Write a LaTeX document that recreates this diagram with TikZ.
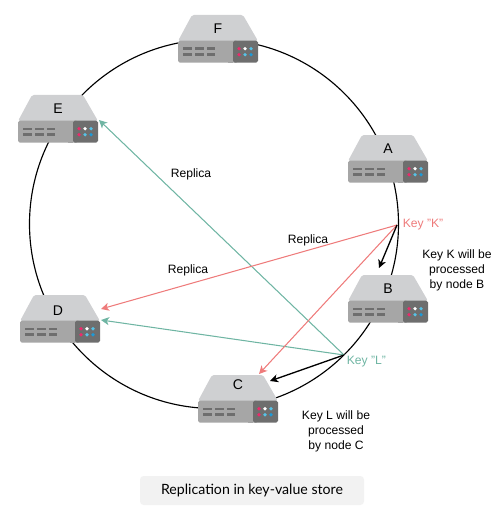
\documentclass[tikz,border=0pt]{standalone}
\usepackage{fontspec}
\setmainfont{Liberation Sans}
\newfontfamily\captionfont{Lato}
\usetikzlibrary{arrows.meta}

\definecolor{rackTop}{HTML}{CFD0D2}
\definecolor{rackFront}{HTML}{A6A6A6}
\definecolor{rackPanel}{HTML}{6E6E6E}
\definecolor{rackPink}{HTML}{EC2A6C}
\definecolor{rackSky}{HTML}{56C2E6}
\definecolor{rackBlue}{HTML}{1E9AD6}
\definecolor{keyRed}{HTML}{EE7B7B}
\definecolor{keyGreen}{HTML}{6FB5A3}

\tikzset{
  namex/.store in = \namex, namex = 40,
  namey/.store in = \namey, namey = 14,
  label/.style = {font=\fontsize{6.9}{8.5}\selectfont, align=center, inner sep=0pt},
  rackname/.style = {font=\fontsize{8}{9}\selectfont, inner sep=0pt},
  server/.pic = {
    \fill[rackTop, rounded corners=1pt] (0,26) -- (14,0) -- (65,0) -- (80,26) -- cycle;
    \fill[rackFront, rounded corners=1pt] (0,25.7) rectangle (60,47.7);
    \fill[rackPanel, rounded corners=1pt] (55,25.7) rectangle (80,47.7);
    \fill[rackFront] (50,25.7) rectangle (55,47.7);
    \foreach \x in {5.3, 17, 28.7} {
      \fill[rackPanel] (\x,32.5) rectangle ++(8.6,2.8);
      \fill[rackPanel] (\x,38.1) rectangle ++(8.6,2.8);
    }
    \fill[white] (67,33.7) circle[radius=1.8];
    \fill[rackPink] (61,33.7) circle[radius=1.8];
    \fill[rackPink] (61,39.7) circle[radius=1.8];
    \fill[rackSky] (73,33.7) circle[radius=1.8];
    \fill[rackSky] (67,39.7) circle[radius=1.8];
    \fill[rackBlue] (73,39.7) circle[radius=1.8];
    \node[rackname] (-name) at (\namex,\namey) {#1};
  },
  link/.style = {-{Stealth[length=4.6pt, width=4.6pt, inset=1.3pt]}, line width=0.75pt},
  redlink/.style = {link, keyRed, line width=0.6pt},
  greenlink/.style = {link, keyGreen, line width=0.6pt}
}

\begin{document}
\begin{tikzpicture}[x=0.02cm, y=-0.02cm]
  \useasboundingbox (0,0) rectangle (497,510);

  \draw[line width=0.65pt] (214,224) circle[radius=184.5];

  \pic (srvF) at (178,15) {server={F}};
  \pic (srvE) at (18,95) {server={E}};
  \pic (srvA) at (348,135) {server={A}};
  \pic (srvB) at (348,275) {server={B}};
  \pic[namex=38, namey=16] (srvD) at (20,295) {server={D}};
  \pic[namey=9.5] (srvC) at (198,375) {server={C}};

  \coordinate (keyK) at (397,225);
  \coordinate (keyL) at (344,355);
  \coordinate (tipB) at (379,268);
  \coordinate (tipC) at (270,381);
  \coordinate (tipCred) at (259,374);
  \coordinate (tipD) at (101,309);
  \coordinate (tipDgreen) at (101,320);
  \coordinate (tipE) at (99,120);

  \draw[greenlink] (keyL) to (tipE);
  \draw[greenlink] (keyL) to (tipDgreen);
  \draw[redlink] (keyK) to (tipD);
  \draw[redlink] (keyK) to (tipCred);
  \draw[link] (keyK) to (tipB);
  \draw[link] (keyL) to (tipC);

  \node[label, text=keyRed, anchor=west] (textK) at (402.5,224.5) {Key "K"};
  \node[label, text=keyGreen, anchor=west] (textL) at (346.5,362) {Key "L"};
  \node[label] (rep1) at (191,174) {Replica};
  \node[label] (rep2) at (308,240) {Replica};
  \node[label] (rep3) at (188,270) {Replica};
  \node[label] (noteB) at (457,270) {Key K will be\\processed\\by node B};
  \node[label] (noteC) at (336,431) {Key L will be\\processed\\by node C};

  \node[fill=black!5, rounded corners=2pt, minimum width=224*0.02cm, minimum height=29*0.02cm,
        inner sep=0pt, font=\captionfont\fontsize{8.05}{9}\selectfont] (caption) at (252,490.5) {Replication in key-value store};
\end{tikzpicture}
\end{document}
